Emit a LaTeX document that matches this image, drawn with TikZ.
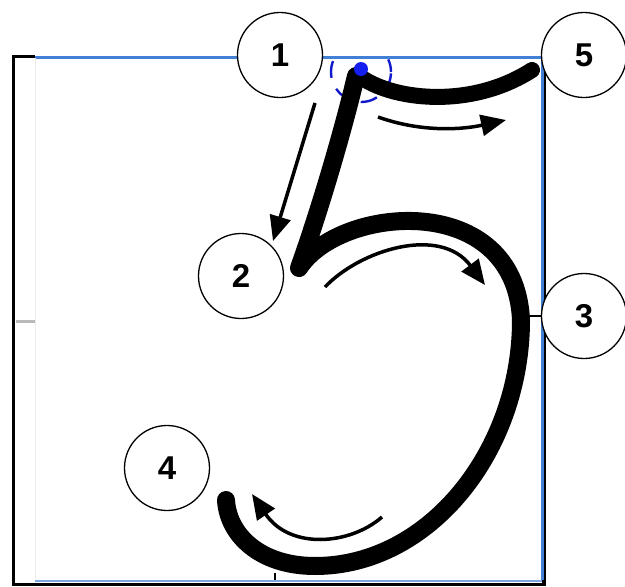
\documentclass[tikz,border=0pt]{standalone}
\usepackage{fontspec}
\setmainfont{Liberation Sans}
\usetikzlibrary{arrows.meta}
\definecolor{frameblue}{RGB}{66,128,214}
\definecolor{dotblue}{RGB}{20,30,240}
\begin{document}
\begin{tikzpicture}[x=1pt,y=-1pt,
  num/.style={circle,draw=black,line width=1.3pt,fill=white,minimum size=85pt,inner sep=0pt,
    font=\fontsize{33}{33}\selectfont\bfseries},
  pen/.style={line width=18pt,line cap=round,line join=round},
  guide/.style={line width=3.5pt,-{Triangle[length=25pt,width=21pt]}},
]
\useasboundingbox (0,0) rectangle (625,587);
\fill[white] (0,0) rectangle (625,587);
% outer black frame
\draw[line width=3.5pt] (35,56.5) -- (13.5,56.5) -- (13.5,584.5) -- (544,584.5) -- (544,58);
% inner blue frame
\draw[frameblue,line width=3pt] (35,57) -- (542,57) -- (542,580);
\draw[frameblue!70,line width=2pt] (35,580.5) -- (542,580.5);
\draw[black!8,line width=1pt] (35,58) -- (35,579);
% small ticks
\draw[gray!55,line width=3pt] (16,321) -- (35,321);
\draw[line width=1.5pt] (275,573) -- (275,580);
% dashed start ring and dot
\begin{scope}
  \clip (300,58.5) rectangle (420,130);
  \draw[dotblue!85!black,line width=2.4pt,dash pattern=on 17pt off 12pt,dash phase=4pt] (361,72) circle (30pt);
\end{scope}
% the figure five
\coordinate (top) at (356,76);
\coordinate (corner) at (299,268);
\coordinate (right) at (521,320);
\coordinate (bottom) at (315,566);
\coordinate (tail) at (226,500);
\draw[pen] (top) .. controls (342,135) and (318,215) .. (corner)
  .. controls (340,205) and (515,190) .. (right)
  .. controls (521,450) and (430,566) .. (bottom)
  .. controls (260,566) and (228,535) .. (tail);
\coordinate (flagS) at (358,75);
\coordinate (flagE) at (532,70);
\draw[pen,line width=16pt] (flagS) .. controls (390,100) and (470,110) .. (flagE);
\fill[dotblue] (361,69) circle (7pt);
% guide arrows
\coordinate (aS) at (315,103);  \coordinate (aE) at (273,241);
\coordinate (bS) at (378,117);  \coordinate (bE) at (506,120);
\coordinate (cS) at (325,287);  \coordinate (cE) at (485,285);
\coordinate (dS) at (382,517);  \coordinate (dE) at (252,494);
\draw[guide] (aS) -- (aE);
\draw[guide] (bS) .. controls (420,132) and (460,130) .. (bE);
\draw[guide] (cS) .. controls (360,250) and (440,225) .. (cE);
\draw[guide] (dS) .. controls (350,545) and (290,550) .. (dE);
% numbered circles
\node[num] (n1) at (280,55) {1};
\node[num] (n5) at (584,55) {5};
\node[num] (n2) at (241,276) {2};
\node[num] (n3) at (584,316) {3};
\node[num] (n4) at (167,468) {4};
\coordinate (t3) at (529,316);
\draw[line width=1.5pt] (t3) -- (n3.west);
\end{tikzpicture}
\end{document}
